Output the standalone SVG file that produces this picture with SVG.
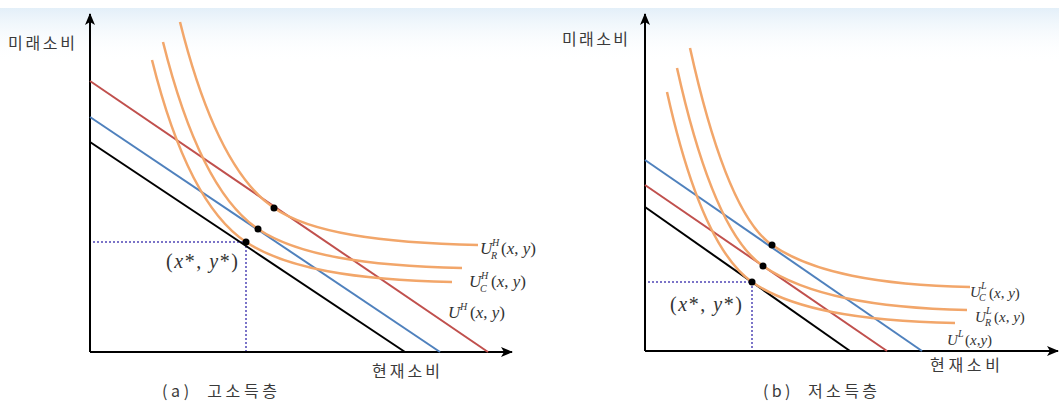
<svg xmlns="http://www.w3.org/2000/svg" width="1059" height="405" viewBox="0 0 1059 405">
<defs>
<linearGradient id="sky" x1="0" y1="0" x2="0" y2="1">
<stop offset="0" stop-color="#dcebf7"/>
<stop offset="1" stop-color="#ffffff" stop-opacity="0"/>
</linearGradient>
<marker id="arr" viewBox="0 0 12 10" refX="11" refY="5" markerWidth="12" markerHeight="10" markerUnits="userSpaceOnUse" orient="auto">
<path d="M0,0 L12,5 L0,10 L3,5 z" fill="#000"/>
</marker>
<style>
.axis{stroke:#000;stroke-width:2;fill:none}
.blk{stroke:#000;stroke-width:2;fill:none}
.blu{stroke:#4f81bd;stroke-width:2;fill:none}
.red{stroke:#c0504d;stroke-width:2;fill:none}
.ic{stroke:#f2a66a;stroke-width:2.5;fill:none}
.dot{stroke:#7b74c8;stroke-width:2;stroke-dasharray:2 2;fill:none}
.kr{font-family:"Noto Sans CJK KR","Noto Sans",sans-serif;fill:#3a3a3a;font-size:16px}
.m{font-family:"Liberation Serif","Times New Roman",serif;fill:#333;font-size:17px}
.mr{font-family:"Liberation Serif","Times New Roman",serif;fill:#333;font-size:15px}
.i{font-style:italic}
.sm{font-size:10px;font-style:italic}
.xy{font-family:"Liberation Serif","Times New Roman",serif;fill:#333;font-size:20px}
</style>
</defs>
<rect x="0" y="8" width="1059" height="55" fill="url(#sky)" opacity="0.8"/>

<g id="panel-a">
<g id="axes-a">
<line class="axis" x1="90" y1="352" x2="90" y2="14" marker-end="url(#arr)"/>
<line class="axis" x1="90" y1="352" x2="512" y2="352" marker-end="url(#arr)"/>
</g>
<g id="guides-a">
<line class="dot" x1="93" y1="242" x2="246" y2="242"/>
<line class="dot" x1="246" y1="242" x2="246" y2="351"/>
</g>
<g id="budget-a">
<line class="blk" x1="90" y1="142" x2="405" y2="352"/>
<line class="blu" x1="90" y1="117" x2="440" y2="352"/>
<line class="red" x1="90" y1="81" x2="488" y2="352"/>
</g>
<g id="curves-a">
<path class="ic" d="M180,22 C204.5,120 235.9,182 274,208 C310,232.7 380,243 478,245"/>
<path class="ic" d="M163,42 C187.7,140.7 219.3,203 258,229 C296.7,255 364.7,266 462,268"/>
<path class="ic" d="M152,60 C175.9,155.7 207.3,216.4 246,242 C286.4,268.7 355,280 452,282"/>
</g>
<g id="points-a" fill="#000">
<circle cx="274" cy="208" r="3.5"/>
<circle cx="258" cy="229" r="3.5"/>
<circle cx="246" cy="242" r="3.5"/>
</g>
<g id="labels-a">
<text class="kr" x="8" y="49" textLength="67">미래소비</text>
<text class="kr" x="372" y="377" textLength="68">현재소비</text>
<text class="kr" x="162" y="397" textLength="115" xml:space="preserve">(a)  고소득층</text>
<text class="xy" x="166" y="268" textLength="72">(<tspan class="i">x</tspan>*, <tspan class="i">y</tspan>*)</text>
<text class="m" x="480" y="254"><tspan class="i">U</tspan><tspan class="sm" x="492" y="246">H</tspan><tspan class="sm" x="491" y="259">R</tspan><tspan x="501" y="254">(<tspan class="i">x</tspan>, <tspan class="i">y</tspan>)</tspan></text>
<text class="m" x="469" y="287"><tspan class="i">U</tspan><tspan class="sm" x="481" y="279">H</tspan><tspan class="sm" x="480" y="292">C</tspan><tspan x="491" y="287">(<tspan class="i">x</tspan>,  <tspan class="i">y</tspan>)</tspan></text>
<text class="m" x="448" y="318"><tspan class="i">U</tspan><tspan class="sm" x="460" y="310">H</tspan><tspan x="470" y="318">(<tspan class="i">x</tspan>, <tspan class="i">y</tspan>)</tspan></text>
</g>
</g>

<g id="panel-b">
<g id="axes-b">
<line class="axis" x1="645" y1="351" x2="645" y2="14" marker-end="url(#arr)"/>
<line class="axis" x1="645" y1="351" x2="1058" y2="351" marker-end="url(#arr)"/>
</g>
<g id="guides-b">
<line class="dot" x1="648" y1="282" x2="752" y2="282"/>
<line class="dot" x1="752" y1="282" x2="752" y2="350"/>
</g>
<g id="budget-b">
<line class="blk" x1="645" y1="207" x2="850" y2="351"/>
<line class="blu" x1="645" y1="160" x2="922" y2="351"/>
<line class="red" x1="645" y1="185" x2="887" y2="351"/>
</g>
<g id="curves-b">
<path class="ic" d="M690,48 C714.6,159 741.9,224.3 772,245 C812.8,273 878.8,285 970,287"/>
<path class="ic" d="M677,68 C701.3,177.5 730,243.5 763,266 C806,295.3 874,308 967,310"/>
<path class="ic" d="M667,92 C689.9,194.9 718.2,258.3 752,282 C791,309.3 858.7,321 955,323"/>
</g>
<g id="points-b" fill="#000">
<circle cx="772" cy="245" r="3.5"/>
<circle cx="763" cy="266" r="3.5"/>
<circle cx="752" cy="282" r="3.5"/>
</g>
<g id="labels-b">
<text class="kr" x="562" y="45" textLength="66">미래소비</text>
<text class="kr" x="930" y="371" textLength="70">현재소비</text>
<text class="kr" x="763" y="397" textLength="114" xml:space="preserve">(b)  저소득층</text>
<text class="xy" x="670" y="311" textLength="72">(<tspan class="i">x</tspan>*, <tspan class="i">y</tspan>*)</text>
<text class="mr" x="970" y="297"><tspan class="i">U</tspan><tspan class="sm" x="981" y="289">L</tspan><tspan class="sm" x="979" y="301">C</tspan><tspan x="989" y="298">(<tspan class="i">x</tspan>, <tspan class="i">y</tspan>)</tspan></text>
<text class="mr" x="975" y="322"><tspan class="i">U</tspan><tspan class="sm" x="986" y="314">L</tspan><tspan class="sm" x="985" y="326">R</tspan><tspan x="994" y="322">(<tspan class="i">x</tspan>, <tspan class="i">y</tspan>)</tspan></text>
<text class="mr" x="947" y="345"><tspan class="i">U</tspan><tspan class="sm" x="958" y="337">L</tspan><tspan x="965" y="345">(<tspan class="i">x</tspan>,<tspan class="i">y</tspan>)</tspan></text>
</g>
</g>
</svg>
